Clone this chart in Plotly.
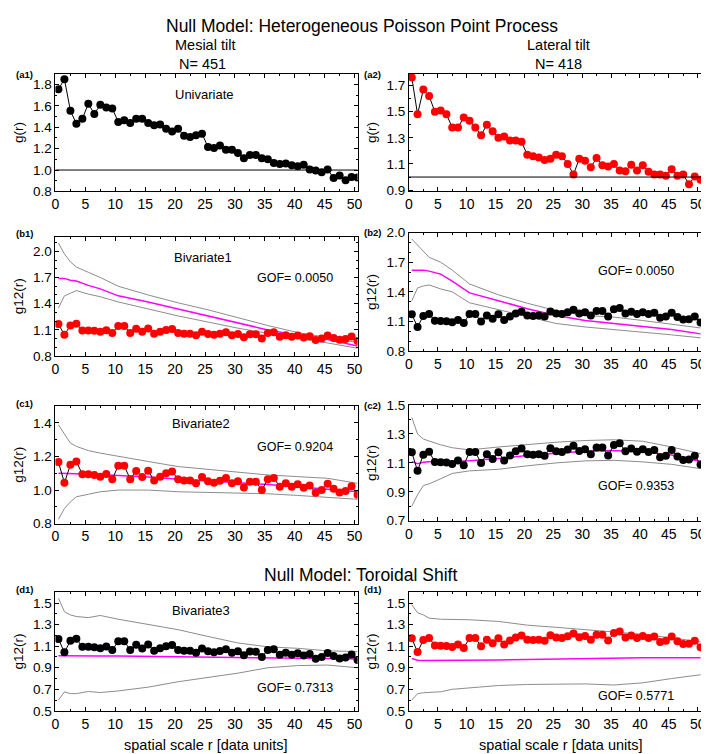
import plotly.graph_objects as go

FONT = "Liberation Sans, Arial, sans-serif"

r = [0.5, 1.5, 2.5, 3.5, 4.5, 5.5, 6.5, 7.5, 8.5, 9.5,
     10.5, 11.5, 12.5, 13.5, 14.5, 15.5, 16.5, 17.5, 18.5, 19.5,
     20.5, 21.5, 22.5, 23.5, 24.5, 25.5, 26.5, 27.5, 28.5, 29.5,
     30.5, 31.5, 32.5, 33.5, 34.5, 35.5, 36.5, 37.5, 38.5, 39.5,
     40.5, 41.5, 42.5, 43.5, 44.5, 45.5, 46.5, 47.5, 48.5, 49.5, 50.5]

# univariate g(r)
mesial_g = [1.755, 1.85, 1.555, 1.433, 1.48, 1.62, 1.524, 1.61, 1.585, 1.576,
            1.45, 1.465, 1.44, 1.48, 1.48, 1.44, 1.42, 1.425, 1.385, 1.36,
            1.385, 1.32, 1.31, 1.325, 1.34, 1.215, 1.205, 1.23, 1.19, 1.19,
            1.16, 1.11, 1.14, 1.14, 1.11, 1.10, 1.065, 1.057, 1.06, 1.045,
            1.035, 1.05, 1.005, 0.995, 0.98, 1.005, 0.925, 0.95, 0.905, 0.935, 0.93]
lateral_g = [1.7625, 1.48, 1.67, 1.62, 1.50, 1.51, 1.48, 1.38, 1.38, 1.455,
             1.43, 1.38, 1.32, 1.40, 1.35, 1.30, 1.31, 1.28, 1.28, 1.27,
             1.17, 1.16, 1.15, 1.13, 1.14, 1.17, 1.16, 1.10, 1.02, 1.14,
             1.125, 1.075, 1.145, 1.09, 1.08, 1.10, 1.05, 1.045, 1.095, 1.05,
             1.09, 1.04, 1.02, 1.02, 1.01, 1.06, 1.01, 1.02, 0.945, 1.005, 0.98]

# observed bivariate g12(r)
mesial_g12 = [1.167, 1.043, 1.15, 1.17, 1.094, 1.094, 1.09, 1.08, 1.096, 1.065,
              1.145, 1.145, 1.065, 1.114, 1.078, 1.115, 1.057, 1.08, 1.10, 1.11,
              1.065, 1.057, 1.057, 1.04, 1.078, 1.053, 1.043, 1.055, 1.072, 1.04,
              1.053, 1.016, 1.05, 1.049, 1.0, 1.065, 1.072, 1.02, 1.04, 1.02,
              1.035, 1.014, 1.027, 0.984, 1.0, 1.037, 1.008, 0.986, 0.995, 1.023, 0.972]
lateral_g12 = [1.173, 1.045, 1.157, 1.177, 1.107, 1.105, 1.102, 1.093, 1.116, 1.084,
               1.175, 1.175, 1.10, 1.16, 1.127, 1.173, 1.116, 1.152, 1.18, 1.20,
               1.16, 1.157, 1.16, 1.15, 1.202, 1.18, 1.175, 1.193, 1.218, 1.182,
               1.195, 1.16, 1.207, 1.207, 1.152, 1.223, 1.236, 1.18, 1.20, 1.177,
               1.195, 1.175, 1.19, 1.139, 1.15, 1.19, 1.145, 1.12, 1.123, 1.15, 1.089]

# null model envelopes (mean, upper, lower)
env_r = [0.5, 1.5, 2.5, 3.5, 5.5, 7.5, 10.5, 15.5, 20.5, 25.5, 30.5, 35.5, 40.5, 45.5, 50.5]

b1_mean = [1.69, 1.69, 1.67, 1.66, 1.61, 1.57, 1.49, 1.42, 1.34, 1.26, 1.18, 1.10, 1.04, 0.99, 0.915]
b1_hi = [2.095, 1.97, 1.88, 1.82, 1.76, 1.70, 1.60, 1.50, 1.41, 1.33, 1.24, 1.15, 1.07, 1.01, 0.955]
b1_lo = [1.35, 1.49, 1.52, 1.55, 1.51, 1.48, 1.42, 1.34, 1.26, 1.19, 1.12, 1.06, 1.0, 0.95, 0.89]

b2_mean = [1.62, 1.62, 1.62, 1.61, 1.58, 1.51, 1.39, 1.31, 1.23, 1.16, 1.11, 1.08, 1.05, 1.02, 0.975]
b2_hi = [1.935, 1.87, 1.81, 1.75, 1.70, 1.62, 1.48, 1.37, 1.285, 1.21, 1.16, 1.145, 1.11, 1.075, 1.035]
b2_lo = [1.31, 1.44, 1.46, 1.47, 1.43, 1.40, 1.29, 1.22, 1.15, 1.08, 1.045, 1.02, 0.99, 0.965, 0.935]

c1_mean = [1.10, 1.10, 1.098, 1.097, 1.095, 1.092, 1.088, 1.078, 1.065, 1.055, 1.045, 1.033, 1.02, 1.005, 0.99]
c1_hi = [1.388, 1.33, 1.28, 1.26, 1.235, 1.22, 1.20, 1.17, 1.14, 1.124, 1.11, 1.09, 1.08, 1.07, 1.04]
c1_lo = [0.826, 0.89, 0.93, 0.96, 0.975, 0.99, 1.0, 1.0, 0.99, 0.985, 0.98, 0.978, 0.968, 0.955, 0.945]

c2_mean = [1.109, 1.095, 1.104, 1.108, 1.108, 1.11, 1.115, 1.13, 1.152, 1.166, 1.18, 1.186, 1.177, 1.155, 1.11]
c2_hi = [1.414, 1.30, 1.265, 1.25, 1.225, 1.205, 1.19, 1.21, 1.227, 1.243, 1.255, 1.26, 1.25, 1.21, 1.164]
c2_lo = [0.80, 0.88, 0.943, 0.955, 0.99, 1.027, 1.045, 1.056, 1.08, 1.10, 1.114, 1.118, 1.107, 1.09, 1.06]

d1_mean = [1.012, 1.011, 1.011, 1.011, 1.01, 1.01, 1.01, 1.007, 1.005, 1.002, 0.998, 0.995, 0.99, 0.985, 0.98]
d1_hi = [1.546, 1.42, 1.39, 1.375, 1.365, 1.385, 1.35, 1.30, 1.253, 1.19, 1.13, 1.094, 1.08, 1.057, 1.05]
d1_lo = [0.60, 0.676, 0.66, 0.66, 0.68, 0.67, 0.685, 0.72, 0.77, 0.81, 0.85, 0.90, 0.92, 0.925, 0.90]

d2_mean = [0.985, 0.97, 0.967, 0.967, 0.967, 0.965, 0.968, 0.972, 0.976, 0.98, 0.985, 0.993, 0.993, 0.993, 0.993]
d2_hi = [1.485, 1.41, 1.39, 1.36, 1.35, 1.35, 1.345, 1.33, 1.295, 1.275, 1.253, 1.23, 1.21, 1.177, 1.14]
d2_lo = [0.60, 0.66, 0.668, 0.67, 0.677, 0.70, 0.713, 0.735, 0.745, 0.75, 0.75, 0.74, 0.76, 0.80, 0.835]

# panel boxes in pixels (left, right, top, bottom)
W, H = 709, 754
LEFT_X = (44, 350)
RIGHT_X = (402, 705)

panels = [
    # name, xpix, ypix, yrange, ytick0, ydtick, xmax, ytitle
    ("a1", LEFT_X, (60, 180), [0.8, 1.9], 0.8, 0.2, 50.5, "g(r)"),
    ("a2", RIGHT_X, (60, 180), [0.89, 1.79], 0.9, 0.2, 51.8, "g(r)"),
    ("b1", LEFT_X, (226, 348), [0.8, 2.17], 0.8, 0.3, 50.5, "g12(r)"),
    ("b2", RIGHT_X, (222, 343), [0.8, 2.0], 0.8, 0.3, 51.8, "g12(r)"),
    ("c1", LEFT_X, (399, 519), [0.8, 1.5], 0.8, 0.2, 50.5, "g12(r)"),
    ("c2", RIGHT_X, (398, 516), [0.7, 1.5], 0.7, 0.2, 51.8, "g12(r)"),
    ("d1", LEFT_X, (589, 710), [0.5, 1.6], 0.5, 0.2, 50.5, "g12(r)"),
    ("d2", RIGHT_X, (589, 710), [0.5, 1.6], 0.5, 0.2, 51.8, "g12(r)"),
]

fig = go.Figure()
layout = {}
axis_ids = {}

for i, (name, xp, yp, yr, y0, dy, xmax, ytitle) in enumerate(panels):
    n = "" if i == 0 else str(i + 1)
    axis_ids[name] = ("x" + n, "y" + n)
    layout["xaxis" + n] = dict(
        domain=[xp[0] / W, xp[1] / W], range=[0, xmax], anchor="y" + n,
        tick0=0, dtick=5, ticks="inside", ticklen=4, tickcolor="black",
        minor=dict(dtick=2.5, ticks="inside", ticklen=2, tickcolor="black"),
        showline=True, linecolor="black", linewidth=1, mirror="ticks",
        showgrid=False, zeroline=False,
        tickfont=dict(family=FONT, size=14, color="black"),
    )
    layout["yaxis" + n] = dict(
        domain=[1 - yp[1] / H, 1 - yp[0] / H], range=yr, anchor="x" + n,
        tick0=y0, dtick=dy, tickformat=".1f", ticks="inside", ticklen=4, tickcolor="black",
        minor=dict(dtick=0.1, ticks="inside", ticklen=2, tickcolor="black"),
        showline=True, linecolor="black", linewidth=1, mirror="ticks",
        showgrid=False, zeroline=False,
        tickfont=dict(family=FONT, size=13.5, color="black"),
        title=dict(text=ytitle, font=dict(family=FONT, size=13.5, color="black"), standoff=6),
    )


def add_env(name, mean, hi, lo):
    xa, ya = axis_ids[name]
    for vals in (hi, lo):
        fig.add_trace(go.Scatter(x=env_r, y=vals, mode="lines", xaxis=xa, yaxis=ya,
                                 line=dict(color="#8c8c8c", width=1), showlegend=False))
    fig.add_trace(go.Scatter(x=env_r, y=mean, mode="lines", xaxis=xa, yaxis=ya,
                             line=dict(color="#ff00ff", width=1.5), showlegend=False))


def add_obs(name, vals, color):
    xa, ya = axis_ids[name]
    fig.add_trace(go.Scatter(x=r, y=vals, mode="lines+markers", xaxis=xa, yaxis=ya,
                             line=dict(color="black", width=1),
                             marker=dict(color=color, size=8, line=dict(width=0)),
                             showlegend=False))


add_obs("a1", mesial_g, "black")
add_obs("a2", lateral_g, "red")
add_env("b1", b1_mean, b1_hi, b1_lo)
add_obs("b1", mesial_g12, "red")
add_env("b2", b2_mean, b2_hi, b2_lo)
add_obs("b2", lateral_g12, "black")
add_env("c1", c1_mean, c1_hi, c1_lo)
add_obs("c1", mesial_g12, "red")
add_env("c2", c2_mean, c2_hi, c2_lo)
add_obs("c2", lateral_g12, "black")
add_env("d1", d1_mean, d1_hi, d1_lo)
add_obs("d1", mesial_g12, "black")
add_env("d2", d2_mean, d2_hi, d2_lo)
add_obs("d2", lateral_g12, "red")

shapes = []
for name in ("a1", "a2"):
    xa, ya = axis_ids[name]
    shapes.append(dict(type="line", xref=xa + " domain", yref=ya, x0=0, x1=1, y0=1.0, y1=1.0,
                       line=dict(color="black", width=1)))

annotations = []


def txt(text, x, y, size=13, bold=False, xanchor="center"):
    annotations.append(dict(
        text="<b>%s</b>" % text if bold else text, x=x / W, y=1 - y / H,
        xref="paper", yref="paper", xanchor=xanchor, yanchor="middle",
        showarrow=False, borderpad=0,
        font=dict(family=FONT, size=size, color="black"),
    ))


txt("Null Model: Heterogeneous Poisson Point Process", 354, 11, size=17.5)
txt("Mesial tilt", 195, 31, size=14.5)
txt("N= 451", 193, 49.5, size=14.5)
txt("Lateral tilt", 554, 31, size=14.5)
txt("N= 418", 554, 49.5, size=14.5)
txt("Null Model: Toroidal Shift", 353, 571, size=17.5)

txt("(a1)", 3, 61, size=9.5, bold=True, xanchor="left")
txt("(a2)", 356, 61, size=9.5, bold=True, xanchor="left")
txt("(b1)", 3, 223, size=9.5, bold=True, xanchor="left")
txt("(b2)", 356, 222, size=9.5, bold=True, xanchor="left")
txt("(c1)", 3, 396, size=9.5, bold=True, xanchor="left")
txt("(c2)", 356, 398, size=9.5, bold=True, xanchor="left")
txt("(d1)", 3, 586, size=9.5, bold=True, xanchor="left")
txt("(d1)", 356, 586, size=9.5, bold=True, xanchor="left")

txt("Univariate", 195, 81)
txt("Bivariate1", 193, 247)
txt("GOF= 0.0050", 287, 268, size=12.5)
txt("GOF= 0.0050", 632, 261, size=12.5)
txt("Bivariate2", 191, 417)
txt("GOF= 0.9204", 287, 441, size=12.5)
txt("GOF= 0.9353", 632, 481, size=12.5)
txt("Bivariate3", 191, 608)
txt("GOF= 0.7313", 287, 687, size=12.5)
txt("GOF= 0.5771", 632, 695, size=12.5)

txt("spatial scale r [data units]", 196, 745, size=14.5)
txt("spatial scale r [data units]", 556, 745, size=14.5)

fig.update_layout(
    width=W, height=H, margin=dict(l=0, r=0, t=0, b=0),
    paper_bgcolor="white", plot_bgcolor="white",
    shapes=shapes, annotations=annotations, showlegend=False,
    **layout,
)

fig.write_html("out.html")
